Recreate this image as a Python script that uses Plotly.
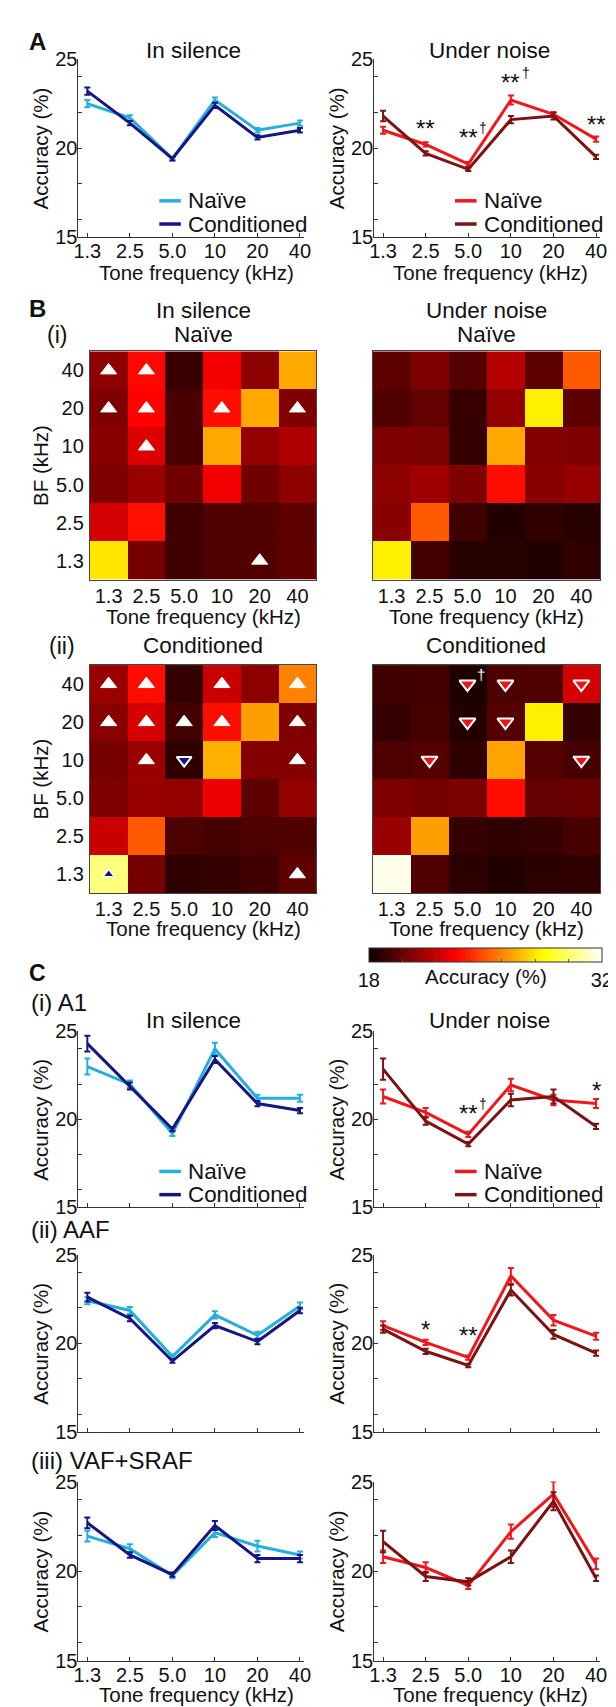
import plotly.graph_objects as go

W, H = 616, 1707
FONT = "Liberation Sans, Arial, sans-serif"
TXT = "#111111"
AX = "#333333"

tones = ['1.3', '2.5', '5.0', '10', '20', '40']
bfs = ['1.3', '2.5', '5.0', '10', '20', '40']   # bottom -> top

# ---------------- Panel A (all fields) ----------------
a_sil_naive = [22.5, 21.7, 19.4, 22.7, 21.0, 21.4]
a_sil_naive_err = [0.2, 0.15, 0.1, 0.15, 0.12, 0.15]
a_sil_cond = [23.2, 21.4, 19.4, 22.4, 20.6, 21.0]
a_sil_cond_err = [0.2, 0.12, 0.1, 0.15, 0.12, 0.12]
a_noi_naive = [21.0, 20.2, 19.1, 22.7, 21.9, 20.5]
a_noi_naive_err = [0.2, 0.12, 0.12, 0.25, 0.12, 0.15]
a_noi_cond = [21.8, 19.7, 18.8, 21.6, 21.8, 19.5]
a_noi_cond_err = [0.3, 0.12, 0.1, 0.2, 0.2, 0.12]
a_noi_sig = [('2.5', 21.1, '**', False), ('5.0', 20.6, '**', True),
             ('10', 23.7, '**', True), ('40', 21.3, '**', True)]

# ---------------- Panel C (i) A1 ----------------
c1_sil_naive = [23.0, 22.0, 19.2, 24.0, 21.2, 21.2]
c1_sil_naive_err = [0.45, 0.2, 0.15, 0.35, 0.2, 0.2]
c1_sil_cond = [24.3, 21.9, 19.45, 23.4, 20.9, 20.5]
c1_sil_cond_err = [0.45, 0.2, 0.12, 0.2, 0.15, 0.15]
c1_noi_naive = [21.3, 20.4, 19.15, 21.95, 21.1, 20.9]
c1_noi_naive_err = [0.4, 0.25, 0.15, 0.35, 0.3, 0.25]
c1_noi_cond = [22.85, 19.9, 18.6, 21.1, 21.3, 19.6]
c1_noi_cond_err = [0.6, 0.2, 0.12, 0.35, 0.4, 0.15]
c1_noi_sig = [('5.0', 20.35, '**', True), ('40', 21.65, '*', False)]

# ---------------- Panel C (ii) AAF ----------------
c2_sil_naive = [22.4, 21.85, 19.25, 21.6, 20.45, 22.1]
c2_sil_naive_err = [0.2, 0.2, 0.12, 0.2, 0.2, 0.2]
c2_sil_cond = [22.6, 21.4, 19.0, 21.0, 20.1, 21.85]
c2_sil_cond_err = [0.25, 0.15, 0.1, 0.15, 0.15, 0.15]
c2_noi_naive = [21.0, 20.05, 19.2, 23.8, 21.3, 20.4]
c2_noi_naive_err = [0.25, 0.15, 0.12, 0.45, 0.3, 0.2]
c2_noi_cond = [20.8, 19.55, 18.75, 23.0, 20.5, 19.45]
c2_noi_cond_err = [0.2, 0.15, 0.1, 0.3, 0.25, 0.15]
c2_noi_sig = [('2.5', 20.75, '*', False), ('5.0', 20.45, '**', False)]

# ---------------- Panel C (iii) VAF+SRAF ----------------
c3_sil_naive = [21.95, 21.25, 19.75, 22.15, 21.4, 20.9]
c3_sil_naive_err = [0.3, 0.25, 0.15, 0.25, 0.3, 0.2]
c3_sil_cond = [22.7, 20.9, 19.8, 22.55, 20.7, 20.7]
c3_sil_cond_err = [0.3, 0.15, 0.12, 0.25, 0.2, 0.2]
c3_noi_naive = [20.8, 20.2, 19.2, 22.2, 24.3, 20.4]
c3_noi_naive_err = [0.35, 0.3, 0.2, 0.4, 0.7, 0.3]
c3_noi_cond = [21.65, 19.7, 19.4, 20.8, 23.9, 19.6]
c3_noi_cond_err = [0.6, 0.25, 0.2, 0.35, 0.5, 0.15]

# ---------------- Panel B heatmaps (rows: BF 1.3 -> 40) ----------------
b_sil_naive = [
    [28.0, 20.3, 19.15, 19.5, 19.5, 19.85],
    [22.3, 23.6, 19.15, 19.5, 19.5, 19.8],
    [20.5, 21.05, 20.2, 23.0, 20.15, 20.8],
    [20.7, 22.5, 19.35, 26.7, 20.95, 21.5],
    [20.5, 23.3, 19.35, 23.5, 26.7, 20.5],
    [20.85, 23.4, 19.0, 23.0, 20.8, 26.7],
]
b_noi_naive = [
    [28.2, 19.2, 18.6, 18.6, 18.5, 18.8],
    [20.7, 25.1, 19.1, 18.5, 18.8, 18.6],
    [20.8, 21.2, 20.5, 23.5, 20.7, 21.0],
    [20.5, 20.4, 18.9, 26.7, 20.6, 20.5],
    [19.5, 19.9, 19.0, 20.9, 28.2, 19.75],
    [19.75, 20.5, 19.6, 21.7, 19.75, 25.1],
]
b_sil_cond = [
    [30.2, 20.3, 18.8, 18.9, 19.1, 19.75],
    [22.1, 25.1, 19.4, 19.3, 19.4, 19.5],
    [20.5, 21.0, 20.9, 22.9, 19.75, 20.9],
    [20.3, 21.1, 18.8, 26.9, 20.6, 20.6],
    [20.7, 22.4, 19.2, 23.5, 26.5, 20.5],
    [21.1, 23.5, 18.9, 22.1, 20.8, 25.9],
]
b_noi_cond = [
    [31.7, 19.5, 18.7, 18.5, 18.7, 18.8],
    [21.1, 26.5, 18.9, 18.8, 18.9, 19.3],
    [20.5, 20.3, 20.4, 23.5, 19.9, 20.0],
    [19.4, 19.6, 18.8, 26.6, 19.6, 19.3],
    [18.9, 19.3, 18.5, 19.6, 28.2, 18.9],
    [19.1, 19.2, 18.4, 19.4, 19.5, 22.3],
]
# significance markers: (tone, BF)
b_sil_naive_up = [('1.3', '40'), ('2.5', '40'), ('1.3', '20'), ('2.5', '20'),
                  ('10', '20'), ('40', '20'), ('2.5', '10'), ('20', '1.3')]
b_sil_cond_up = [('1.3', '40'), ('2.5', '40'), ('10', '40'), ('40', '40'),
                 ('1.3', '20'), ('2.5', '20'), ('5.0', '20'), ('10', '20'), ('40', '20'),
                 ('2.5', '10'), ('40', '10'), ('40', '1.3')]
b_sil_cond_blue_down = [('5.0', '10')]
b_sil_cond_blue_up = [('1.3', '1.3')]
b_noi_cond_red_down = [('5.0', '40'), ('10', '40'), ('40', '40'), ('5.0', '20'),
                       ('10', '20'), ('2.5', '10'), ('40', '10')]
b_noi_cond_dagger = [('5.0', '40')]

cbar_ticks = [18, 20, 22, 24, 26, 28, 30, 32]

C_SIL_N = '#27afdb'
C_SIL_C = '#161682'
C_NOI_N = '#f0161c'
C_NOI_C = '#7c1212'
HOT = [[0.0, 'rgb(11,0,0)'], [0.375, 'rgb(255,0,0)'],
       [0.75, 'rgb(255,255,0)'], [1.0, 'rgb(255,255,255)']]

TICK_SIZE = 20


def fx(px):
    return px / W


def fy(py):
    return 1 - py / H


fig = go.Figure()
layout = dict(width=W, height=H, margin=dict(l=0, r=0, t=0, b=0),
              paper_bgcolor='white', plot_bgcolor='white', showlegend=False,
              font=dict(family=FONT, color=TXT))
annotations = []
shapes = []


def ann(x, y, text, size, **kw):
    d = dict(x=fx(x), y=fy(y), xref='paper', yref='paper', text=text,
             showarrow=False, font=dict(family=FONT, size=size, color=kw.pop('color', TXT)),
             xanchor=kw.pop('xanchor', 'center'), yanchor=kw.pop('yanchor', 'middle'))
    d.update(kw)
    annotations.append(d)


LEFT_X = (66.7, 297.0)
RIGHT_X = (368.3, 599.0)
axis_id = [0]


def line_panel(xpx, ypx, series, show_xlabels, legend, sig=None):
    axis_id[0] += 1
    k = axis_id[0]
    xn = 'xaxis' if k == 1 else 'xaxis%d' % k
    yn = 'yaxis' if k == 1 else 'yaxis%d' % k
    xr = 'x' if k == 1 else 'x%d' % k
    yr = 'y' if k == 1 else 'y%d' % k
    layout[xn] = dict(domain=[fx(xpx[0]), fx(xpx[1])], anchor=yr, type='category',
                      categoryorder='array', categoryarray=tones, range=[-0.21, 5.1],
                      showline=True, linecolor=AX, linewidth=1, ticks='inside', ticklen=4,
                      tickcolor=AX, showgrid=False, zeroline=False, ticklabelstandoff=-4,
                      showticklabels=show_xlabels,
                      tickfont=dict(size=TICK_SIZE, family=FONT, color=TXT))
    layout[yn] = dict(domain=[fy(ypx[1]), fy(ypx[0])], anchor=xr, range=[15, 25],
                      tickvals=[15, 16, 18, 20, 22, 24, 25],
                      ticktext=['15', '', '', '20', '', '', '25'],
                      showline=True, linecolor=AX, linewidth=1, ticks='inside', ticklen=4,
                      tickcolor=AX, showgrid=False, zeroline=False, ticklabelstandoff=-4,
                      tickfont=dict(size=TICK_SIZE, family=FONT, color=TXT))
    for vals, errs, col in series:
        fig.add_trace(go.Scatter(x=tones, y=vals, mode='lines', xaxis=xr, yaxis=yr,
                                 line=dict(color=col, width=3),
                                 error_y=dict(type='data', array=errs, color=col,
                                              thickness=2, width=3)))
    if legend:
        lx0 = xpx[0] + 82.5
        for i, (nm, col) in enumerate(legend):
            yy = ypx[1] - 36.5 + i * 23.5
            shapes.append(dict(type='line', xref='paper', yref='paper',
                               x0=fx(lx0), x1=fx(lx0 + 22), y0=fy(yy), y1=fy(yy),
                               line=dict(color=col, width=3.5)))
            ann(lx0 + 27.5, yy, nm, 22.4, xanchor='left')
    if sig:
        for tone, yv, stars, dag in sig:
            xi = tones.index(tone)
            annotations.append(dict(x=xi, y=yv, xref=xr, yref=yr, text=stars,
                                    showarrow=False, font=dict(size=24, family=FONT, color=TXT),
                                    xanchor='center', yanchor='middle'))
            if dag:
                annotations.append(dict(x=xi, y=yv, xref=xr, yref=yr, text='†',
                                        showarrow=False, font=dict(size=14, family=FONT, color=TXT),
                                        xanchor='center', yanchor='middle', xshift=15, yshift=9))
    ann(xpx[0] - 38.7, (ypx[0] + ypx[1]) / 2, 'Accuracy (%)', 20.5, textangle=-90)


sil_leg = (('Naïve', C_SIL_N), ('Conditioned', C_SIL_C))
noi_leg = (('Naïve', C_NOI_N), ('Conditioned', C_NOI_C))

PA = (40.7, 220.7)
C1 = (1025.5, 1204.0)
C2 = (1251.7, 1431.5)
C3 = (1481.7, 1663.0)

line_panel(LEFT_X, PA, [(a_sil_naive, a_sil_naive_err, C_SIL_N), (a_sil_cond, a_sil_cond_err, C_SIL_C)], True, sil_leg)
line_panel(RIGHT_X, PA, [(a_noi_naive, a_noi_naive_err, C_NOI_N), (a_noi_cond, a_noi_cond_err, C_NOI_C)], True, noi_leg, a_noi_sig)
line_panel(LEFT_X, C1, [(c1_sil_naive, c1_sil_naive_err, C_SIL_N), (c1_sil_cond, c1_sil_cond_err, C_SIL_C)], False, sil_leg)
line_panel(RIGHT_X, C1, [(c1_noi_naive, c1_noi_naive_err, C_NOI_N), (c1_noi_cond, c1_noi_cond_err, C_NOI_C)], False, noi_leg, c1_noi_sig)
line_panel(LEFT_X, C2, [(c2_sil_naive, c2_sil_naive_err, C_SIL_N), (c2_sil_cond, c2_sil_cond_err, C_SIL_C)], False, None)
line_panel(RIGHT_X, C2, [(c2_noi_naive, c2_noi_naive_err, C_NOI_N), (c2_noi_cond, c2_noi_cond_err, C_NOI_C)], False, None, c2_noi_sig)
line_panel(LEFT_X, C3, [(c3_sil_naive, c3_sil_naive_err, C_SIL_N), (c3_sil_cond, c3_sil_cond_err, C_SIL_C)], True, None)
line_panel(RIGHT_X, C3, [(c3_noi_naive, c3_noi_naive_err, C_NOI_N), (c3_noi_cond, c3_noi_cond_err, C_NOI_C)], True, None)

# ---------------- heatmaps ----------------
HL_X = (78.3, 309.3)
HR_X = (366.7, 599.0)
BI = (336.7, 568.0)
BII = (654.5, 885.7)


def heat_panel(xpx, ypx, z, show_y):
    axis_id[0] += 1
    k = axis_id[0]
    xn, yn, xr, yr = 'xaxis%d' % k, 'yaxis%d' % k, 'x%d' % k, 'y%d' % k
    common = dict(type='category', categoryorder='array', range=[-0.5, 5.5],
                  showline=True, mirror=True, linecolor='#444444', linewidth=1,
                  ticks='', showgrid=False, zeroline=False,
                  tickfont=dict(size=TICK_SIZE, family=FONT, color=TXT))
    layout[xn] = dict(domain=[fx(xpx[0]), fx(xpx[1])], anchor=yr, categoryarray=tones,
                      ticklabelstandoff=-2, **common)
    layout[yn] = dict(domain=[fy(ypx[1]), fy(ypx[0])], anchor=xr, categoryarray=bfs,
                      showticklabels=show_y, ticklabelstandoff=1, **common)
    fig.add_trace(go.Heatmap(z=z, x=tones, y=bfs, coloraxis='coloraxis',
                             xaxis=xr, yaxis=yr, hoverinfo='skip'))
    return xr, yr


def markers(xr, yr, pts, symbol, color, size, lcol, lw):
    fig.add_trace(go.Scatter(x=[p[0] for p in pts], y=[p[1] for p in pts], mode='markers',
                             xaxis=xr, yaxis=yr,
                             marker=dict(symbol=symbol, color=color, size=size,
                                         line=dict(color=lcol, width=lw))))


xr, yr = heat_panel(HL_X, BI, b_sil_naive, True)
markers(xr, yr, b_sil_naive_up, 'triangle-up', 'white', 14, 'white', 1)
xr, yr = heat_panel(HR_X, BI, b_noi_naive, False)
xr, yr = heat_panel(HL_X, BII, b_sil_cond, True)
markers(xr, yr, b_sil_cond_up, 'triangle-up', 'white', 14, 'white', 1)
markers(xr, yr, b_sil_cond_blue_down, 'triangle-down', C_SIL_C, 13, 'white', 2)
markers(xr, yr, b_sil_cond_blue_up, 'triangle-up', C_SIL_C, 10, 'white', 1.5)
xr, yr = heat_panel(HR_X, BII, b_noi_cond, False)
markers(xr, yr, b_noi_cond_red_down, 'triangle-down', '#ea1419', 14, 'white', 2)
for tone, bf in b_noi_cond_dagger:
    annotations.append(dict(x=tones.index(tone), y=bfs.index(bf), xref=xr, yref=yr,
                            text='†', showarrow=False,
                            font=dict(size=15, family=FONT, color='white'),
                            xshift=14, yshift=10))

layout['coloraxis'] = dict(
    colorscale=HOT, cmin=18, cmax=32,
    colorbar=dict(orientation='h', x=fx(481.7), xanchor='center', y=fy(941), yanchor='top',
                  len=233.3, lenmode='pixels', thickness=14, thicknessmode='pixels',
                  xpad=0, ypad=0, outlinewidth=1, outlinecolor='#333333',
                  tickvals=cbar_ticks,
                  ticktext=[str(t) if t in (18, 32) else '' for t in cbar_ticks],
                  ticks='inside', ticklen=3, tickcolor='#555555',
                  tickfont=dict(size=TICK_SIZE, family=FONT, color=TXT)))

# ---------------- text labels ----------------
ann(25, 23, '<b>A</b>', 24)
ann(25, 293, '<b>B</b>', 24)
ann(25, 966, '<b>C</b>', 23)

for yy in (32, 1015):
    ann(184.3, yy, 'In silence', 22.5)
    ann(486.0, yy, 'Under noise', 22.5)
for yy in (257, 1697):
    ann(187, yy, 'Tone frequency (kHz)', 20.5)
    ann(487, yy, 'Tone frequency (kHz)', 20.5)

ann(45, 320, '(i)', 23)
ann(193.8, 295, 'In silence', 22.5)
ann(193.8, 320, 'Naïve', 22.5)
ann(482.8, 295, 'Under noise', 22.5)
ann(482.8, 320, 'Naïve', 22.5)
ann(50, 635, '(ii)', 23)
ann(193.8, 635, 'Conditioned', 22.5)
ann(482.8, 635, 'Conditioned', 22.5)
for yy in (605, 921.7):
    ann(193.8, yy, 'Tone frequency (kHz)', 20.5)
    ann(482.8, yy, 'Tone frequency (kHz)', 20.5)
ann(28, 452.3, 'BF (kHz)', 20.5, textangle=-90)
ann(28, 770, 'BF (kHz)', 20.5, textangle=-90)
ann(482, 970, 'Accuracy (%)', 20.5)

ann(16, 996, '(i) A1', 24, xanchor='left')
ann(16, 1226.7, '(ii) AAF', 24, xanchor='left')
ann(16, 1460, '(iii) VAF+SRAF', 24, xanchor='left')

layout['annotations'] = annotations
layout['shapes'] = shapes
fig.update_layout(**layout)
fig.write_html("out.html")
